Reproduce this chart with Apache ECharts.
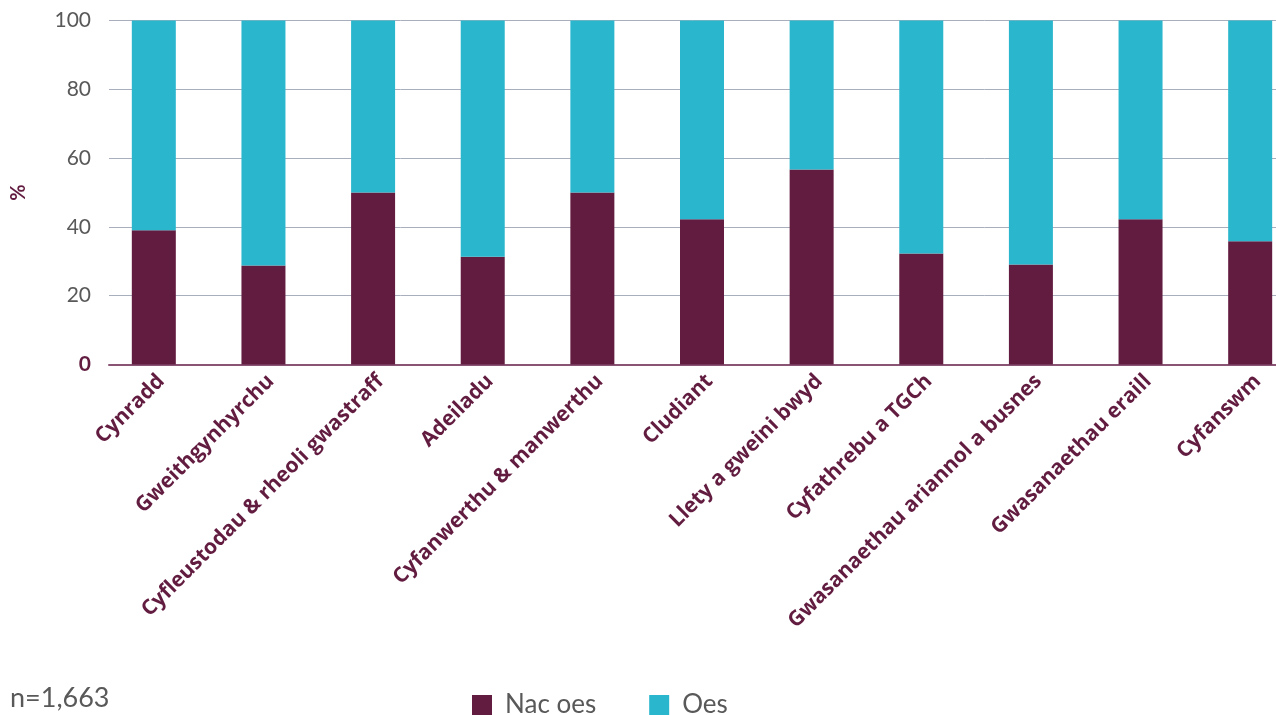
<!DOCTYPE html>
<html>
<head>
<meta charset="utf-8">
<script src="https://cdn.jsdelivr.net/npm/echarts@6/dist/echarts.min.js"></script>
<style>html,body{margin:0;padding:0;background:#fff}#c{width:1276px;height:715px}</style>
</head>
<body>
<div id="c"></div>
<script>
const categories = ['Cynradd','Gweithgynhyrchu','Cyfleustodau & rheoli gwastraff','Adeiladu','Cyfanwerthu & manwerthu','Cludiant','Llety a gweini bwyd','Cyfathrebu a TGCh','Gwasanaethau ariannol a busnes','Gwasanaethau eraill','Cyfanswm'];
const nacOes = [39.0, 28.8, 50.0, 31.3, 50.0, 42.2, 56.7, 32.3, 29.1, 42.2, 35.8];
const oes = [61.0, 71.2, 50.0, 68.7, 50.0, 57.8, 43.3, 67.7, 70.9, 57.8, 64.2];
const yTicks = [0, 20, 40, 60, 80, 100];
const seriesNames = ['Nac oes', 'Oes'];
const note = 'n=1,663';

const purple = '#621C40';
const teal = '#2AB7CE';
const grey = '#595959';
const font = 'Lato';
const labelFont = 'Open Sans';

const chart = echarts.init(document.getElementById('c'), null, {renderer: 'canvas'});
chart.setOption({
  animation: false,
  textStyle: {fontFamily: font},
  grid: [
    {left: 99, top: 20.5, width: 1206, height: 344, containLabel: false, outerBoundsMode: 'none'},
    {left: 109, top: 20.5, width: 1167, height: 344, containLabel: false, outerBoundsMode: 'none'}
  ],
  xAxis: [
    {
      type: 'category', gridIndex: 0, data: categories,
      axisLine: {show: false}, axisTick: {show: false},
      axisLabel: {rotate: 45, color: purple, fontSize: 21, fontWeight: 'bold', fontFamily: labelFont, margin: 6, interval: 0, verticalAlign: 'top'}
    },
    {
      type: 'category', gridIndex: 1, data: [''],
      axisLine: {show: true, lineStyle: {color: '#8A5575', width: 2}},
      axisTick: {show: false}, axisLabel: {show: false}
    }
  ],
  yAxis: [
    {type: 'value', gridIndex: 0, min: 0, max: 100, show: false, splitLine: {show: false}},
    {
      type: 'value', gridIndex: 1, min: yTicks[0], max: yTicks[yTicks.length - 1], interval: 20,
      name: '%', nameLocation: 'middle', nameRotate: 90, nameGap: 80,
      nameTextStyle: {color: purple, fontSize: 20, fontWeight: 'bold', fontFamily: font},
      axisLine: {show: false}, axisTick: {show: false},
      axisLabel: {
        margin: 18, color: grey, fontSize: 21, fontFamily: font,
        formatter: function (v) { return v === 0 ? '{z|0}' : String(v); },
        rich: {z: {color: purple, fontWeight: 'bold', fontSize: 21, fontFamily: font}}
      },
      splitLine: {show: true, lineStyle: {color: '#A9AEBD', width: 1}}
    }
  ],
  legend: {
    data: seriesNames, left: 472, top: 692, padding: 0, itemWidth: 20, itemHeight: 20, itemGap: 53,
    icon: 'rect',
    textStyle: {color: grey, fontSize: 26, fontFamily: font, padding: [0, 0, 0, 8]}
  },
  graphic: [{
    type: 'text', left: 10, top: 685,
    style: {text: note, fill: grey, fontSize: 27, fontFamily: font}
  }],
  series: [
    {name: seriesNames[0], type: 'bar', stack: 's', xAxisIndex: 0, yAxisIndex: 0, barWidth: 44, data: nacOes, itemStyle: {color: purple}},
    {name: seriesNames[1], type: 'bar', stack: 's', xAxisIndex: 0, yAxisIndex: 0, barWidth: 44, data: oes, itemStyle: {color: teal}}
  ]
});
</script>
</body>
</html>
